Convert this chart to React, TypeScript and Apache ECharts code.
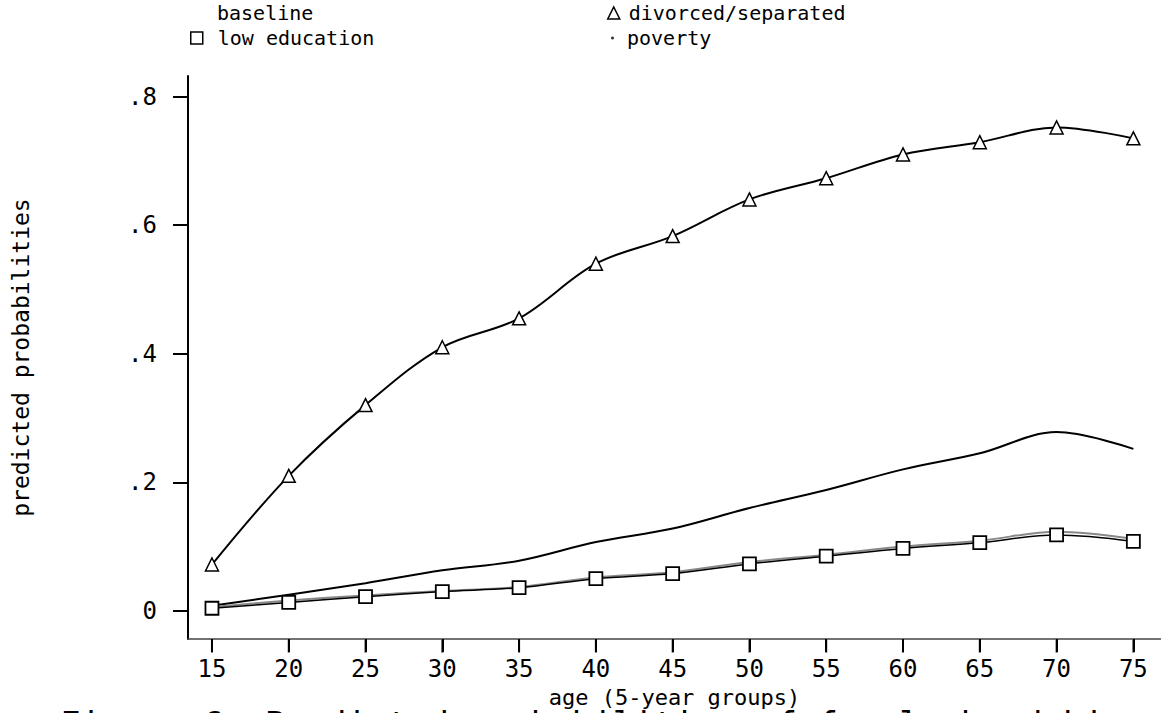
import React, { useEffect, useRef } from "react";
import * as echarts from "echarts";

const ages = [15, 20, 25, 30, 35, 40, 45, 50, 55, 60, 65, 70, 75];
const baseline = [0.008, 0.025, 0.043, 0.063, 0.078, 0.107, 0.128, 0.16, 0.188, 0.22, 0.245, 0.278, 0.252];
const divorced = [0.072, 0.21, 0.32, 0.41, 0.455, 0.54, 0.583, 0.64, 0.673, 0.71, 0.729, 0.752, 0.735];
const lowEducation = [0.004, 0.013, 0.022, 0.03, 0.036, 0.05, 0.058, 0.073, 0.085, 0.097, 0.106, 0.118, 0.108];
const poverty = [0.006, 0.016, 0.024, 0.031, 0.037, 0.052, 0.06, 0.076, 0.087, 0.1, 0.109, 0.123, 0.112];
const xTicks = [15, 20, 25, 30, 35, 40, 45, 50, 55, 60, 65, 70, 75];
const yTicks = [0, 0.2, 0.4, 0.6, 0.8];

const FONT = "DejaVu Sans Mono";
const X_MIN = 13.44;
const X_MAX = 76.8;
const Y_MIN = -0.044;
const Y_MAX = 0.832;

export default function App() {
  const ref = useRef<HTMLDivElement>(null);
  useEffect(() => {
    const chart = echarts.init(ref.current!, null, { renderer: "svg" });
    const pair = (arr: number[]) => ages.map((a, i) => [a, arr[i]]);
    const txt = { fontFamily: FONT, fontSize: 20, color: "#000" };
    const legendBase = {
      orient: "vertical",
      selectedMode: false,
      itemWidth: 12,
      itemHeight: 12,
      padding: 0,
      textStyle: { ...txt, lineHeight: 22 },
    };
    chart.setOption({
      animation: false,
      backgroundColor: "#fff",
      grid: { left: 188, top: 76, right: 0, bottom: 64, containLabel: false },
      legend: [
        {
          ...legendBase,
          left: 200,
          top: 2,
          data: [{ name: "baseline", icon: "rect", itemStyle: { opacity: 0 } }],
        },
        {
          ...legendBase,
          left: 190,
          top: 27,
          textStyle: { ...txt, lineHeight: 22, padding: [0, 0, 0, 10] },
          data: [{ name: "low education", icon: "rect", itemStyle: { color: "#fff", borderColor: "#000", borderWidth: 1.5 } }],
        },
        {
          ...legendBase,
          left: 607,
          top: 2,
          textStyle: { ...txt, lineHeight: 22, padding: [0, 0, 0, 4] },
          data: [{ name: "divorced/separated", icon: "triangle", itemStyle: { color: "#fff", borderColor: "#000", borderWidth: 1.5 } }],
        },
        {
          ...legendBase,
          left: 611,
          top: 27,
          itemWidth: 3,
          itemHeight: 3,
          textStyle: { ...txt, lineHeight: 22, padding: [0, 0, 0, 8] },
          data: [{ name: "poverty", icon: "circle", itemStyle: { color: "#333" } }],
        },
      ],
      xAxis: {
        type: "value",
        min: X_MIN,
        max: X_MAX,
        name: "age (5-year groups)",
        nameLocation: "middle",
        nameGap: 31,
        nameTextStyle: { ...txt, fontSize: 22 },
        axisLine: { show: true, onZero: false, lineStyle: { color: "#444", width: 1.5 } },
        axisTick: { show: true, customValues: xTicks, length: 13, lineStyle: { color: "#000", width: 2 } },
        axisLabel: { customValues: xTicks, ...txt, fontSize: 24, lineHeight: 24, margin: 18 },
        splitLine: { show: false },
      },
      yAxis: {
        type: "value",
        min: Y_MIN,
        max: Y_MAX,
        name: "predicted probabilities",
        nameLocation: "middle",
        nameGap: 156,
        nameRotate: 90,
        nameTextStyle: { ...txt, fontSize: 23 },
        axisLine: { show: true, onZero: false, lineStyle: { color: "#000", width: 2 } },
        axisTick: { show: true, customValues: yTicks, length: 15, lineStyle: { color: "#000", width: 2 } },
        axisLabel: {
          customValues: yTicks,
          ...txt,
          fontSize: 24,
          margin: 31,
          formatter: (v: number) => (v === 0 ? "0" : String(Math.round(v * 10) / 10).replace(/^0\./, ".")),
        },
        splitLine: { show: false },
      },
      graphic: [
        {
          type: "text",
          left: 60,
          top: 707,
          style: { text: "Figure 6: Predicted probabilities of female headship", font: `34px "${FONT}"`, fill: "#000" },
        },
      ],
      series: [
        {
          name: "xticks",
          type: "scatter",
          clip: false,
          silent: true,
          z: 10,
          symbol: "rect",
          symbolSize: [2, 13],
          symbolOffset: [0, 7],
          itemStyle: { color: "#000" },
          data: xTicks.map((t) => [t, Y_MIN]),
        },
        {
          name: "baseline",
          type: "line",
          smooth: 0.35,
          symbol: "none",
          data: pair(baseline),
          lineStyle: { color: "#000", width: 2 },
          itemStyle: { color: "#000" },
        },
        {
          name: "divorced/separated",
          type: "line",
          smooth: 0.35,
          symbol: "triangle",
          symbolSize: 13,
          data: pair(divorced),
          lineStyle: { color: "#000", width: 2 },
          itemStyle: { color: "#fff", borderColor: "#000", borderWidth: 1.5 },
        },
        {
          name: "poverty",
          type: "line",
          smooth: 0.35,
          symbol: "circle",
          symbolSize: 3,
          data: pair(poverty),
          lineStyle: { color: "#888", width: 2 },
          itemStyle: { color: "#555" },
        },
        {
          name: "low education",
          type: "line",
          smooth: 0.35,
          symbol: "rect",
          symbolSize: 13,
          data: pair(lowEducation),
          lineStyle: { color: "#000", width: 1.5 },
          itemStyle: { color: "#fff", borderColor: "#000", borderWidth: 1.8 },
          z: 3,
        },
      ],
    });
    return () => chart.dispose();
  }, []);
  return (
    <div
      ref={ref}
      style={{ position: "fixed", left: 0, top: 0, width: 1161, height: 713, background: "#fff" }}
    />
  );
}
